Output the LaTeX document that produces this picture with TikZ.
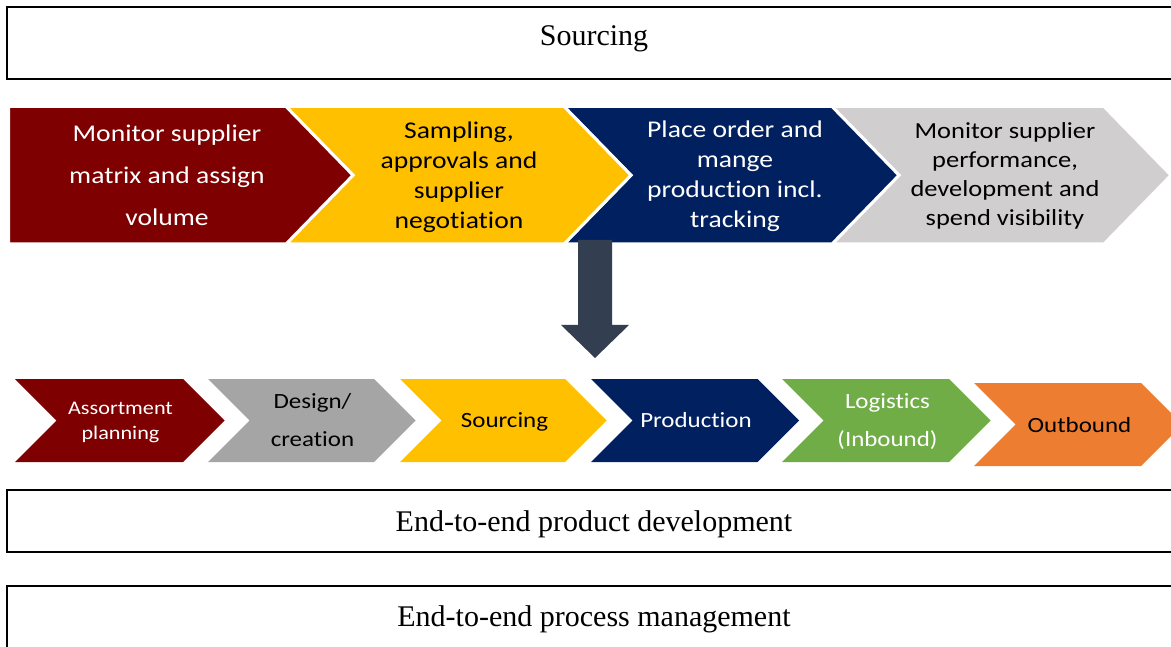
\documentclass[tikz,border=0pt]{standalone}
\usepackage{fontspec}
\setmainfont{Liberation Serif}
\newfontfamily\chevfont[FakeStretch=1.15, RawFeature={-liga;-clig;-dlig;-calt}]{Carlito}
% break the t-i pair so no ligature forms
\newcommand\tisplit{t\kern0pt i}

\definecolor{cMaroon}{HTML}{7F0000}
\definecolor{cGold}{HTML}{FFC000}
\definecolor{cNavy}{HTML}{002060}
\definecolor{cSilver}{HTML}{D0CECE}
\definecolor{cGrey}{HTML}{A5A5A5}
\definecolor{cGreen}{HTML}{70AD47}
\definecolor{cOrange}{HTML}{ED7D31}
\definecolor{cSlate}{HTML}{333F50}

\tikzset{
  frame/.style={draw=black, line width=2pt},
  frametext/.style={font=\fontsize{30}{35}\selectfont, anchor=base},
  bigchev/.style={draw=white, line width=3pt, line join=miter},
  toptext/.style={font=\chevfont\fontsize{24}{30}\selectfont, align=center, inner sep=0pt},
  lowtext/.style={font=\chevfont\fontsize{21.7}{38}\selectfont, align=center, inner sep=0pt},
}

\begin{document}
\begin{tikzpicture}[x=1pt, y=-1pt]
  \useasboundingbox (0,0) rectangle (1171,647);
  \clip (0,0) rectangle (1171,647);
  \fill[white] (0,0) rectangle (1171,647);

  % header frame
  \draw[frame] (7,7) rectangle (1181,79);
  \node[frametext] (hdr) at (594,46) {Sourcing};

  % sourcing steps
  \draw[bigchev, fill=cSilver] (832,106.5) -- (1104,106.5) -- (1171,175.25) -- (1104,244) -- (832,244) -- (899,175.25) -- cycle;
  \draw[bigchev, fill=cNavy] (564,106.5) -- (832,106.5) -- (899,175.25) -- (832,244) -- (564,244) -- (631,175.25) -- cycle;
  \draw[bigchev, fill=cGold] (286,106.5) -- (564,106.5) -- (631,175.25) -- (564,244) -- (286,244) -- (353,175.25) -- cycle;
  \draw[bigchev, fill=cMaroon] (8.5,106.5) -- (286,106.5) -- (353,175.25) -- (286,244) -- (8.5,244) -- cycle;

  \node[toptext, text=white, font=\chevfont\fontsize{24}{42}\selectfont] (s1) at (167,175) {Monitor supplier\\matrix and assign\\volume};
  \node[toptext, text=black] (s2) at (459,177) {Sampling,\\approvals and\\supplier\\nego\tisplit a\tisplit on};
  \node[toptext, text=white] (s3) at (735,176.5) {Place order and\\mange\\produc\tisplit on incl.\\tracking};
  \node[toptext, text=black, font=\chevfont\fontsize{23}{29}\selectfont] (s4) at (1005,176) {Monitor supplier\\performance,\\development and\\spend visibility};

  % down arrow
  \fill[cSlate] (578,240) -- (612,240) -- (612,325) -- (629,325) -- (595,358) -- (561,325) -- (578,325) -- cycle;

  % end-to-end steps
  \fill[cMaroon] (15,379) -- (183,379) -- (224.5,420.5) -- (183,462) -- (15,462) -- (56.5,420.5) -- cycle;
  \fill[cGrey] (208,379) -- (374,379) -- (415.5,420.5) -- (374,462) -- (208,462) -- (249.5,420.5) -- cycle;
  \fill[cGold] (400,379) -- (565,379) -- (606.5,420.5) -- (565,462) -- (400,462) -- (441.5,420.5) -- cycle;
  \fill[cNavy] (591,379) -- (757.5,379) -- (799,420.5) -- (757.5,462) -- (591,462) -- (632.5,420.5) -- cycle;
  \fill[cGreen] (782,379) -- (949,379) -- (990.5,420.5) -- (949,462) -- (782,462) -- (823.5,420.5) -- cycle;
  \fill[cOrange] (974,383) -- (1141,383) -- (1182.5,424.5) -- (1141,466) -- (974,466) -- (1015.5,424.5) -- cycle;

  \node[lowtext, text=white, font=\chevfont\fontsize{19.3}{25}\selectfont] (p1) at (120.5,422) {Assortment\\planning};
  \node[lowtext, text=black] (p2) at (312.5,420) {Design/\\crea\tisplit on};
  \node[lowtext, text=black] (p3) at (504.5,422) {Sourcing};
  \node[lowtext, text=white] (p4) at (696,420) {Produc\tisplit on};
  \node[lowtext, text=white] (p5) at (887.5,422) {Logis\tisplit cs\\(Inbound)};
  \node[lowtext, text=black] (p6) at (1079.5,425) {Outbound};

  % lower frames
  \draw[frame] (7,490) rectangle (1181,552);
  \node[frametext] (e2e) at (594,531.5) {End-to-end product development};
  \draw[frame] (7,586) rectangle (1181,660);
  \node[frametext] (mgmt) at (594,626) {End-to-end process management};
\end{tikzpicture}
\end{document}
